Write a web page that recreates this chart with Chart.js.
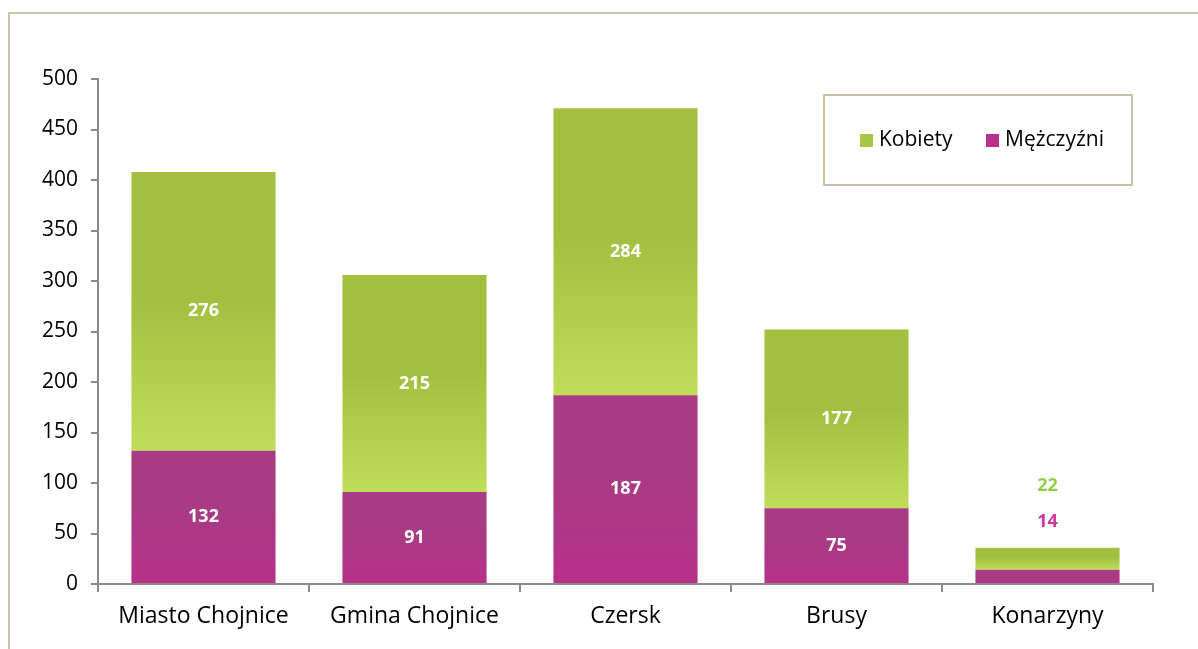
<!DOCTYPE html>
<html>
<head>
<meta charset="utf-8">
<script src="https://cdn.jsdelivr.net/npm/chart.js@4/dist/chart.umd.min.js"></script>
<style>
  html, body { margin: 0; padding: 0; background: #fff; }
  #wrap { position: relative; width: 1198px; height: 649px; overflow: hidden; }
  #frame { position: absolute; left: 8px; top: 12px; width: 1300px; height: 800px;
           border-left: 2px solid #c9c3a3; border-top: 2px solid #c9c3a3; }
  canvas { position: absolute; left: 0; top: 0; }
</style>
</head>
<body>
<div id="wrap">
  <div id="frame"></div>
  <canvas id="chart1" width="1198" height="649"></canvas>
</div>
<script>
// data
var categories = ['Miasto Chojnice', 'Gmina Chojnice', 'Czersk', 'Brusy', 'Konarzyny'];
var men = [132, 91, 187, 75, 14];
var women = [276, 215, 284, 177, 22];
var yTicks = [0, 50, 100, 150, 200, 250, 300, 350, 400, 450, 500];

var FONT = "'Open Sans', 'Noto Sans', sans-serif";

function gradFill(top, bottom, lower) {
    return function (c) {
        var chart = c.chart;
        if (!chart.chartArea || c.dataIndex === undefined) return bottom;
        var y = chart.scales.y;
        var base = lower ? lower[c.dataIndex] : 0;
        var v = base + c.dataset.data[c.dataIndex];
        var y0 = y.getPixelForValue(v);
        var y1 = y.getPixelForValue(base);
        if (y1 - y0 < 1) return bottom;
        var g = chart.ctx.createLinearGradient(0, y0, 0, y1);
        g.addColorStop(0, top);
        g.addColorStop(0.45, top);
        g.addColorStop(1, bottom);
        return g;
    };
}

// labels in the middle of each segment, or above a short stack
var barLabels = {
    id: 'barLabels',
    afterDatasetsDraw: function (chart) {
        var ctx = chart.ctx;
        ctx.save();
        ctx.font = 'bold 18px ' + FONT;
        ctx.textAlign = 'center';
        ctx.textBaseline = 'middle';
        var m0 = chart.getDatasetMeta(0), m1 = chart.getDatasetMeta(1);
        categories.forEach(function (c, i) {
            var a = m0.data[i], b = m1.data[i];
            var stackTop = b.y;
            var small = (a.base - stackTop) < 60;
            if (small) {
                ctx.fillStyle = '#8fcf4c';
                ctx.fillText(String(women[i]), b.x, stackTop - 62);
                ctx.fillStyle = '#d1369f';
                ctx.fillText(String(men[i]), a.x, stackTop - 26);
            } else {
                ctx.fillStyle = '#ffffff';
                ctx.fillText(String(men[i]), a.x, (a.y + a.base) / 2);
                ctx.fillText(String(women[i]), b.x, (b.y + b.base) / 2);
            }
        });
        ctx.restore();
    }
};

// legend in a framed box, top right
var boxLegend = {
    id: 'boxLegend',
    afterDraw: function (chart) {
        var ctx = chart.ctx;
        ctx.save();
        ctx.strokeStyle = '#c9c3a3';
        ctx.lineWidth = 2;
        ctx.strokeRect(824, 95, 308, 90);
        ctx.font = '21px ' + FONT;
        ctx.textBaseline = 'middle';
        var items = [
            { text: chart.data.datasets[1].label, color: '#a8c646', x: 860 },
            { text: chart.data.datasets[0].label, color: '#b83088', x: 986 }
        ];
        items.forEach(function (it) {
            ctx.fillStyle = it.color;
            ctx.fillRect(it.x, 134, 13, 13);
            ctx.fillStyle = '#000';
            ctx.fillText(it.text, it.x + 19, 140);
        });
        ctx.restore();
    }
};

var ctx = document.getElementById('chart1').getContext('2d');
var myChart = new Chart(ctx, {
    type: 'bar',
    data: {
        labels: categories,
        datasets: [{
            label: 'Mężczyźni',
            data: men,
            backgroundColor: gradFill('#a93a84', '#b8308a', null)
        }, {
            label: 'Kobiety',
            data: women,
            backgroundColor: gradFill('#a3bf40', '#c0dd5a', men)
        }]
    },
    options: {
        responsive: false,
        animation: false,
        layout: { padding: { top: 79, right: 45, left: 10, bottom: 9 } },
        datasets: { bar: { categoryPercentage: 1, barPercentage: 0.683 } },
        plugins: {
            legend: { display: false },
            tooltip: { enabled: false }
        },
        scales: {
            x: {
                stacked: true,
                grid: { drawOnChartArea: false, drawTicks: true, tickLength: 8, color: '#8a8a8a', lineWidth: 2 },
                border: { color: '#8a8a8a', width: 2 },
                ticks: { color: '#000', font: { family: FONT, size: 23 }, padding: 11 },
                afterFit: function (s) { s.height = 56; }
            },
            y: {
                stacked: true,
                min: 0,
                max: 500,
                grid: { drawOnChartArea: false, drawTicks: true, tickLength: 7, color: '#8a8a8a', lineWidth: 2 },
                border: { color: '#8a8a8a', width: 2 },
                afterBuildTicks: function (s) { s.ticks = yTicks.map(function (v) { return { value: v }; }); },
                ticks: { color: '#000', font: { family: FONT, size: 21 }, padding: 13 },
                afterFit: function (s) { s.width = 88; }
            }
        }
    },
    plugins: [barLabels, boxLegend]
});
</script>
</body>
</html>
